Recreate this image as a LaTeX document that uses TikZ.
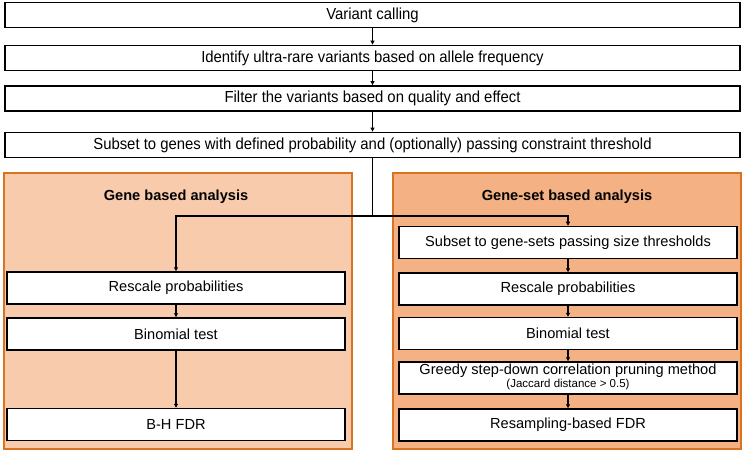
\documentclass[tikz,border=0pt]{standalone}
\usepackage{fontspec}
\setmainfont{Liberation Sans}
\newfontfamily\narrowfont[FakeStretch=0.93]{Liberation Sans}
\usetikzlibrary{arrows.meta}
\definecolor{panelL}{HTML}{F8CBAD}
\definecolor{panelR}{HTML}{F4B183}
\definecolor{panelEdge}{HTML}{D9731F}
\begin{document}
\begin{tikzpicture}[x=1pt,y=-1pt,
  topbox/.style={draw=black,line width=1.8pt,fill=white,minimum width=735pt,minimum height=25pt,inner sep=0pt,font=\narrowfont\fontsize{16}{18}\selectfont},
  subbox/.style={draw=black,line width=1.5pt,fill=white,minimum width=338pt,minimum height=32pt,inner sep=0pt,font=\fontsize{14.6}{16}\selectfont},
  panel/.style={draw=panelEdge,line width=1.6pt},
  ptitle/.style={font=\bfseries\fontsize{14.6}{16}\selectfont},
  arr/.style={draw=black,line width=1.1pt,-{Triangle[length=4pt,width=4pt]}},
  link/.style={draw=black,line width=1.1pt}]
\useasboundingbox (0,0) rectangle (746,454);
\fill[white] (0,0) rectangle (746,454);
% panels
\draw[panel,fill=panelL] (4,173) rectangle (352,449);
\draw[panel,fill=panelR] (393,173) rectangle (741,449);
\node[ptitle] (tl) at (176,197) {Gene based analysis};
\node[ptitle] (tr) at (567,197) {Gene-set based analysis};
% top boxes
\node[topbox] (b1) at (372.5,15) {Variant calling};
\node[topbox] (b2) at (372.5,58) {Identify ultra-rare variants based on allele frequency};
\node[topbox] (b3) at (372.5,98.5) {Filter the variants based on quality and effect};
\node[topbox] (b4) at (372.5,145) {Subset to genes with defined probability and (optionally) passing constraint threshold};
% left boxes
\node[subbox] (l1) at (176,288) {Rescale probabilities};
\node[subbox] (l2) at (176,334) {Binomial test};
\node[subbox] (l3) at (176,424.5) {B-H FDR};
% right boxes
\node[subbox] (r1) at (568,242.5) {Subset to gene-sets passing size thresholds};
\node[subbox] (r2) at (568,289) {Rescale probabilities};
\node[subbox] (r3) at (568,333.5) {Binomial test};
\node[subbox,minimum height=32pt] (r4) at (568,378) {};
\node[font=\fontsize{14.6}{16}\selectfont] (r4a) at (568,371) {Greedy step-down correlation pruning method};
\node[font=\fontsize{11.5}{13}\selectfont] (r4b) at (568,384.5) {(Jaccard distance > 0.5)};
\node[subbox] (r5) at (568,425) {Resampling-based FDR};
% connectors
\draw[arr] (b1) -- (b2);
\draw[arr] (b2) -- (b3);
\draw[arr] (b3) -- (b4);
\coordinate (j) at (b4.south |- 0,216);
\draw[link] (b4.south) -- (j);
\draw[arr] (j) -| (l1.north);
\draw[arr] (j) -| (r1.north);
\draw[arr] (l1) -- (l2);
\draw[arr] (l2) -- (l3);
\draw[arr] (r1) -- (r2);
\draw[arr] (r2) -- (r3);
\draw[arr] (r3) -- (r4);
\draw[arr] (r4) -- (r5);
\end{tikzpicture}
\end{document}
